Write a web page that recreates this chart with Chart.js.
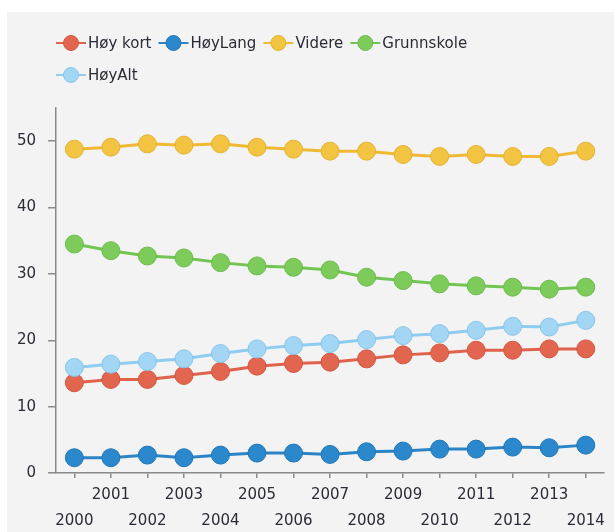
<!DOCTYPE html>
<html>
<head>
<meta charset="utf-8">
<script src="https://cdn.jsdelivr.net/npm/chart.js@4"></script>
<style>
  html, body { margin: 0; padding: 0; background: #ffffff; }
  #panel { position: absolute; left: 7px; top: 12px; width: 607px; height: 520px; background: #f3f3f3; }
</style>
</head>
<body>
<div id="panel"><canvas id="myChart" width="607" height="520"></canvas></div>
<script>
const years = ["2000", "2001", "2002", "2003", "2004", "2005", "2006", "2007",
               "2008", "2009", "2010", "2011", "2012", "2013", "2014"];

const hoyKort    = [13.6, 14.1, 14.1, 14.7, 15.3, 16.1, 16.5, 16.7, 17.2, 17.8, 18.1, 18.5, 18.5, 18.7, 18.7];
const hoyLang    = [2.3, 2.3, 2.7, 2.3, 2.7, 3.0, 3.0, 2.8, 3.2, 3.3, 3.6, 3.6, 3.9, 3.8, 4.2];
const videre     = [48.8, 49.1, 49.6, 49.4, 49.6, 49.1, 48.8, 48.5, 48.5, 48.0, 47.7, 48.0, 47.7, 47.7, 48.5];
const grunnskole = [34.5, 33.5, 32.7, 32.4, 31.7, 31.2, 31.0, 30.6, 29.5, 29.0, 28.5, 28.2, 28.0, 27.7, 28.0];
const hoyAlt     = [15.9, 16.4, 16.8, 17.2, 18.0, 18.7, 19.2, 19.5, 20.1, 20.7, 21.0, 21.5, 22.1, 22.0, 23.0];

const yTicks = [0, 10, 20, 30, 40, 50];

const FONT = "'DejaVu Sans', Tahoma, sans-serif";
const TEXT = "#2b2b38";
const AXIS = "#8a8a8a";

function series(label, data, line, fill, border, order) {
    return {
        label,
        data,
        order,
        borderColor: line,
        borderWidth: 3,
        backgroundColor: fill,
        pointBackgroundColor: fill,
        pointBorderColor: border,
        pointBorderWidth: 1,
        pointRadius: 9,
        pointHoverRadius: 9,
        tension: 0,
    };
}

// legend drawn in two rows like the original
const rowLegend = {
    id: "rowLegend",
    afterDraw(chart) {
        const ctx = chart.ctx;
        let x = 49, y = 31;
        ctx.save();
        ctx.font = "15px " + FONT;
        ctx.textBaseline = "middle";
        chart.data.datasets.forEach((ds) => {
            const w = 32 + ctx.measureText(ds.label).width;
            if (x + w > 490) { x = 49; y += 32; }
            ctx.strokeStyle = ds.borderColor;
            ctx.lineWidth = 2;
            ctx.beginPath();
            ctx.moveTo(x, y);
            ctx.lineTo(x + 30, y);
            ctx.stroke();
            ctx.beginPath();
            ctx.arc(x + 15, y, 7.5, 0, Math.PI * 2);
            ctx.fillStyle = ds.pointBackgroundColor;
            ctx.fill();
            ctx.lineWidth = 1;
            ctx.strokeStyle = ds.pointBorderColor;
            ctx.stroke();
            ctx.fillStyle = TEXT;
            ctx.fillText(ds.label, x + 32, y + 1);
            x += w + 7;
        });
        ctx.restore();
    }
};

const ctx = document.getElementById("myChart").getContext("2d");

const myChart = new Chart(ctx, {
    type: "line",
    data: {
        labels: years,
        datasets: [
            series("Høy kort", hoyKort, "#e0624d", "#e2664f", "#d2553f", 1),
            series("HøyLang", hoyLang, "#2a84c6", "#2b88cc", "#2176b5", 1),
            series("Videre", videre, "#efb934", "#f2c441", "#e3b232", 1),
            series("Grunnskole", grunnskole, "#73c553", "#7dcc5b", "#6bbb4c", 1),
            series("HøyAlt", hoyAlt, "#8fcdf0", "#a3d6f4", "#86c4ea", 0),
        ],
    },
    options: {
        responsive: false,
        animation: false,
        layout: { padding: { top: 96, left: -2, right: 10, bottom: -6 } },
        plugins: {
            legend: { display: false },
            tooltip: { enabled: false },
        },
        scales: {
            x: {
                offset: true,
                border: { color: AXIS, width: 1.5 },
                grid: { drawOnChartArea: false, color: AXIS, tickLength: 5, lineWidth: 1.5 },
                ticks: {
                    autoSkip: false,
                    maxRotation: 0,
                    minRotation: 0,
                    padding: 4,
                    color: TEXT,
                    font: { family: FONT, size: 15, lineHeight: 26 / 15 },
                    callback: function (value, index) {
                        const lab = this.getLabelForValue(value);
                        return index % 2 === 1 ? lab : ["", lab];
                    },
                },
            },
            y: {
                min: 0,
                max: 55,
                border: { color: AXIS, width: 1.5 },
                grid: { drawOnChartArea: false, color: AXIS, tickLength: 8, lineWidth: 1.5 },
                afterBuildTicks: (axis) => {
                    axis.ticks = yTicks.map((v) => ({ value: v }));
                },
                ticks: {
                    padding: 12,
                    color: TEXT,
                    font: { family: FONT, size: 15 },
                },
            },
        },
    },
    plugins: [rowLegend],
});
</script>
</body>
</html>
